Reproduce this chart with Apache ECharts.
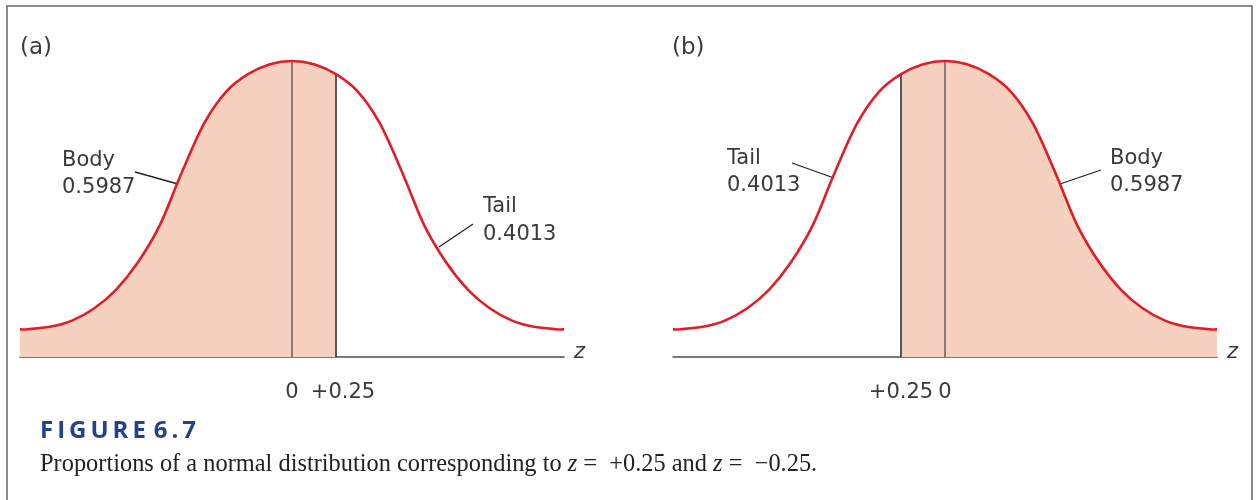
<!DOCTYPE html>
<html>
<head>
<meta charset="utf-8">
<script src="https://cdn.jsdelivr.net/npm/echarts@6/dist/echarts.min.js"></script>
<style>
html,body{margin:0;padding:0;background:#fff;}
#chart{width:1258px;height:500px;}
</style>
</head>
<body>
<div id="chart"></div>
<script>
// ---- data ----
// right half of the normal curve (z units, relative density); left half is its mirror image
const halfZ = [0, 0.125, 0.25, 0.375, 0.5, 0.625, 0.75, 0.875, 1.0, 1.125, 1.25, 1.375, 1.5, 1.545];
const halfDensity = [0.400, 0.3955, 0.3822, 0.3584, 0.3153, 0.2499, 0.1785, 0.1280, 0.0908, 0.0655, 0.0492, 0.0408, 0.0376, 0.0373];
// panel (a): shaded area is z <= +0.25 ; panel (b): shaded area is z >= -0.25
const cutsA = [0, 0.25];
const cutsB = [-0.25, 0];
const tickValuesA = [0, 0.25];
const tickLabelsA = ['0', '+0.25'];
const tickValuesB = [-0.25, 0];
const tickLabelsB = ['+0.25', '0'];
const panelTitles = ['(a)', '(b)'];
const bodyLabel = ['Body', '0.5987'];
const tailLabel = ['Tail', '0.4013'];

// ---- build series data ----
const curve = [];
for (let i = halfZ.length - 1; i > 0; i--) curve.push([-halfZ[i], halfDensity[i]]);
for (let i = 0; i < halfZ.length; i++) curve.push([halfZ[i], halfDensity[i]]);
const idxOf = z => curve.findIndex(d => Math.abs(d[0] - z) < 1e-9);
const heightAt = z => { const i = idxOf(z); return i >= 0 ? curve[i][1] : 0; };

const RED = '#e31d25';
const PEACH = '#f7d1c0';
const AXIS = '#4d4d4d';
const TXT = '#3a3a3a';
const FONT = 'DejaVu Sans';

// smooth (Catmull-Rom) path through the data points, in pixel space via the axes
function segPath(p, from, to) {
  let s = '';
  for (let i = from; i < to; i++) {
    const p0 = p[i - 1] || p[i], p1 = p[i], p2 = p[i + 1], p3 = p[i + 2] || p[i + 1];
    const c1x = p1[0] + (p2[0] - p0[0]) / 6, c1y = p1[1] + (p2[1] - p0[1]) / 6;
    const c2x = p2[0] - (p3[0] - p1[0]) / 6, c2y = p2[1] - (p3[1] - p1[1]) / 6;
    s += ' C' + c1x + ' ' + c1y + ' ' + c2x + ' ' + c2y + ' ' + p2[0] + ' ' + p2[1];
  }
  return s;
}
function curveSeries(gi) {
  return {
    type: 'custom', xAxisIndex: gi, yAxisIndex: gi, data: curve, z: 5, silent: true, clip: false,
    renderItem: (params, api) => {
      if (params.dataIndex !== 0) return null;
      const p = curve.map(d => api.coord(d));
      const d = 'M' + p[0][0] + ' ' + p[0][1] + segPath(p, 0, p.length - 1);
      return {type: 'path', shape: {pathData: d}, style: {fill: 'none', stroke: RED, lineWidth: 2.6, lineJoin: 'round'}};
    }
  };
}
function fillSeries(gi, cut, side) {
  return {
    type: 'custom', xAxisIndex: gi, yAxisIndex: gi, data: curve, z: 1, silent: true, clip: false,
    renderItem: (params, api) => {
      if (params.dataIndex !== 0) return null;
      const p = curve.map(d => api.coord(d));
      const y0 = api.coord([0, 0])[1];
      const k = idxOf(cut);
      let d;
      if (side === 'left') {
        d = 'M' + p[0][0] + ' ' + y0 + ' L' + p[0][0] + ' ' + p[0][1] + segPath(p, 0, k) + ' L' + p[k][0] + ' ' + y0 + ' Z';
      } else {
        const n = p.length - 1;
        d = 'M' + p[k][0] + ' ' + y0 + ' L' + p[k][0] + ' ' + p[k][1] + segPath(p, k, n) + ' L' + p[n][0] + ' ' + y0 + ' Z';
      }
      return {type: 'path', shape: {pathData: d}, style: {fill: PEACH, stroke: null}};
    }
  };
}
function xAxis(gi, vals, labels, shiftLast) {
  return {
    type: 'value', gridIndex: gi, min: -1.545, max: 1.545,
    axisLine: {show: true, onZero: false, lineStyle: {color: AXIS, width: 1.5}},
    axisTick: {show: false},
    splitLine: {show: false},
    axisLabel: {
      show: true, customValues: vals, margin: 25,
      fontFamily: FONT, fontSize: 21, color: TXT,
      formatter: v => {
        const i = vals.findIndex(x => Math.abs(x - v) < 1e-9);
        if (i < 0) return '';
        return (shiftLast && i === vals.length - 1) ? '{s|' + labels[i] + '}' : labels[i];
      },
      rich: {s: {fontFamily: FONT, fontSize: 21, color: TXT, padding: [0, 0, 0, 14]}}
    },
    name: 'z', nameLocation: 'end', nameGap: 10,
    nameTextStyle: {fontFamily: FONT, fontSize: 21, fontStyle: 'italic', color: TXT, verticalAlign: 'bottom', padding: [0, 0, -6, 0]}
  };
}
function yAxis(gi) {
  return {type: 'value', gridIndex: gi, min: 0, max: 0.4, show: false};
}
function cutSeries(gi, cuts, colors) {
  return cuts.map((c, k) => ({
    type: 'line', xAxisIndex: gi, yAxisIndex: gi, data: [[c, 0], [c, heightAt(c)]],
    symbol: 'none', clip: false, z: 3, silent: true,
    lineStyle: {color: colors[k], width: 1.5}
  }));
}
const T = (x, y, text, size) => ({type: 'text', x, y, style: {text, font: size + 'px "DejaVu Sans"', fill: TXT, verticalAlign: 'middle'}});
const L = (x1, y1, x2, y2) => ({type: 'line', shape: {x1, y1, x2, y2}, style: {stroke: '#222', lineWidth: 1.3}});

const chart = echarts.init(document.getElementById('chart'), null, {renderer: 'canvas'});
const option = {
  animation: false,
  backgroundColor: '#fff',
  grid: [
    {left: 20, top: 61, width: 544, height: 296},
    {left: 673, top: 61, width: 544, height: 296}
  ],
  xAxis: [xAxis(0, tickValuesA, tickLabelsA, true), xAxis(1, tickValuesB, tickLabelsB, false)],
  yAxis: [yAxis(0), yAxis(1)],
  series: [
    fillSeries(0, cutsA[1], 'left'),
    fillSeries(1, cutsB[0], 'right'),
    ...cutSeries(0, cutsA, ['#6b5d5a', '#262626']),
    ...cutSeries(1, cutsB, ['#262626', '#6b5d5a']),
    curveSeries(0),
    curveSeries(1)
  ],
  graphic: [
    {type: 'rect', shape: {x: 7, y: 6, width: 1245, height: 520}, style: {fill: 'none', stroke: '#666', lineWidth: 1.5}, silent: true},
    T(20, 48, panelTitles[0], 23),
    T(672, 48, panelTitles[1], 23),
    // panel (a) annotations
    T(62, 161, bodyLabel[0], 21),
    T(62, 188, bodyLabel[1], 21),
    L(135, 172, 178, 184),
    T(483, 207, tailLabel[0], 21),
    T(483, 235, tailLabel[1], 21),
    L(439, 247, 473, 224),
    // panel (b) annotations
    T(727, 159, tailLabel[0], 21),
    T(727, 186, tailLabel[1], 21),
    L(792, 163, 834, 178),
    T(1110, 159, bodyLabel[0], 21),
    T(1110, 186, bodyLabel[1], 21),
    L(1060, 184, 1101, 170),
    // caption
    {type: 'text', x: 40, y: 431, style: {text: 'F\u2009I\u2009G\u2009U\u2009R\u2009E\u2009\u20096\u2009.\u20097', font: 'bold 24px "Open Sans"', fill: '#1f4391', verticalAlign: 'middle'}},
    {type: 'text', x: 40, y: 465, style: {
      text: '{r|Proportions of a normal distribution corresponding to }{i|z}{r| =  +0.25 and }{i|z}{r| =  \u22120.25.}',
      verticalAlign: 'middle',
      rich: {
        r: {fontFamily: 'Liberation Serif', fontSize: 24.4, fill: '#222'},
        i: {fontFamily: 'Liberation Serif', fontSize: 24.4, fontStyle: 'italic', fill: '#222'}
      }
    }}
  ]
};
chart.setOption(option);
</script>
</body>
</html>
